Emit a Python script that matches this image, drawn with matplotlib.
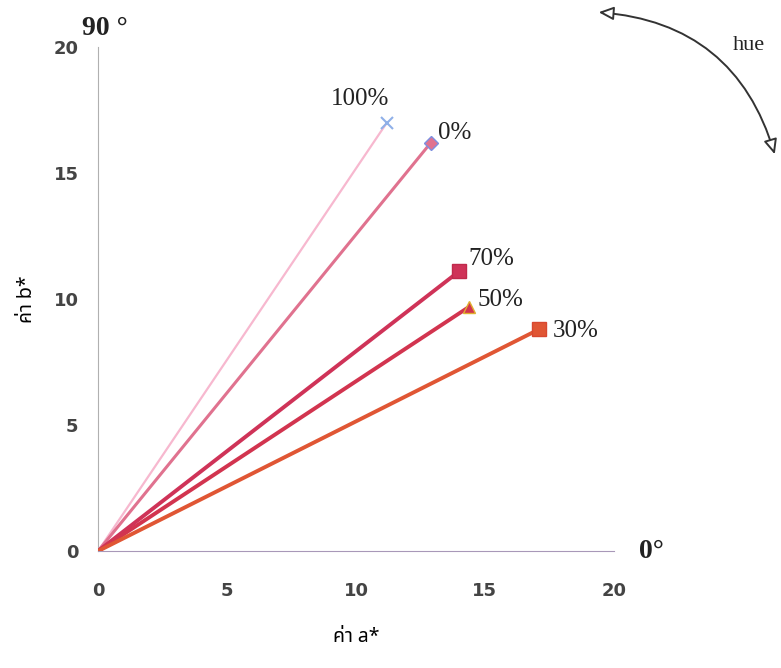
import matplotlib.pyplot as plt
from matplotlib.patches import FancyArrowPatch

# values (end point of each line, all start at the origin)
labels = ['100%', '0%', '70%', '50%', '30%']
a_vals = [11.2, 12.9, 14.0, 14.4, 17.1]
b_vals = [17.0, 16.2, 11.1, 9.7, 8.8]

colors = ['#f7b8cf', '#e0728f', '#cf3358', '#d2344f', '#e05634']
markers = ['x', 'D', 's', '^', 's']
mec = ['#8fb0e8', '#7d8fe0', '#c02a4c', '#e0b030', '#d84830']
widths = [1.6, 2.2, 2.8, 2.8, 2.8]
sizes = [9, 7, 10, 9, 10]

fig = plt.figure(figsize=(7.81, 6.68), dpi=100)
ax = fig.add_axes([0.1255, 0.175, 0.6605, 0.7546])

for i in range(len(labels)):
    ax.plot([0, a_vals[i]], [0, b_vals[i]], color=colors[i], lw=widths[i],
            solid_capstyle='butt', zorder=3)
    ax.plot(a_vals[i], b_vals[i], marker=markers[i], ms=sizes[i],
            color=colors[i], mec=mec[i], mew=1.5 if markers[i] == 'x' else 1, zorder=4)

# point labels (offsets in points)
offsets = {'100%': (-40, 17), '0%': (5, 7), '70%': (7, 9), '50%': (6, 5), '30%': (10, -1)}
for lab, x, y in zip(labels, a_vals, b_vals):
    ax.annotate(lab, (x, y), xytext=offsets[lab], textcoords='offset points',
                fontsize=18, family='Liberation Serif', color='#222222', va='center')

ax.set_xlim(0, 20)
ax.set_ylim(0, 20)
ax.set_xticks([0, 5, 10, 15, 20])
ax.set_yticks([0, 5, 10, 15, 20])
ax.tick_params(length=0, labelsize=13, labelcolor='#444444')
ax.tick_params(axis='x', pad=22)
ax.tick_params(axis='y', pad=14)
for t in ax.get_xticklabels() + ax.get_yticklabels():
    t.set_fontweight('bold')
for s in ['top', 'right']:
    ax.spines[s].set_visible(False)
ax.spines['left'].set_color('#b0b0b0')
ax.spines['bottom'].set_color('#a898b8')

thai = ['Noto Sans Thai', 'Noto Sans', 'DejaVu Sans']
ax.set_xlabel('ค่า a*', fontsize=14, fontweight='bold', family=thai, labelpad=20)
ax.set_ylabel('ค่า b*', fontsize=14, fontweight='bold', family=thai, labelpad=12)

fig.text(0.105, 0.957, '90 °', fontsize=20, fontweight='bold', family='Liberation Serif',
         color='#222222', ha='left', va='center')
fig.text(0.818, 0.175, '0°', fontsize=20, fontweight='bold', family='Liberation Serif',
         color='#222222', ha='left', va='center')

# curved hue arrow in the corner
fig.patches.append(FancyArrowPatch(
    (0.763, 0.982), (0.993, 0.765), transform=fig.transFigure,
    connectionstyle='arc3,rad=-0.35', arrowstyle='<|-|>,head_length=9,head_width=4',
    color='#333333', lw=1.4, fc='white'))
fig.text(0.938, 0.932, 'hue', fontsize=16, family='Liberation Serif', color='#222222',
         ha='left', va='center')

fig.savefig('out.png', dpi=100)
